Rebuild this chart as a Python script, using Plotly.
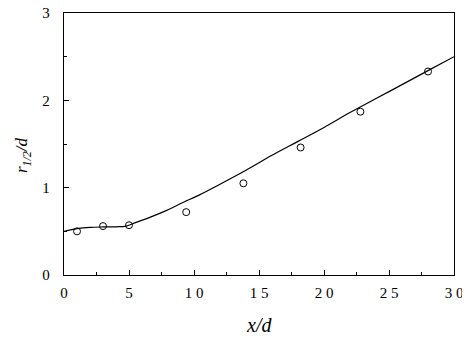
import plotly.graph_objects as go

# measured points
x_pts = [1.0, 3.0, 5.0, 9.4, 13.8, 18.2, 22.8, 28.0]
y_pts = [0.50, 0.56, 0.57, 0.72, 1.05, 1.46, 1.87, 2.33]

# fitted curve
x_fit = [0, 1, 2, 3, 4, 4.8, 5.5, 6.6, 7.9, 9.15, 10.46, 12, 14, 16, 18, 20, 22, 24, 26, 28, 30]
y_fit = [0.50, 0.53, 0.545, 0.55, 0.552, 0.56, 0.60, 0.66, 0.74, 0.83, 0.92, 1.04, 1.20, 1.37, 1.53, 1.69, 1.86, 2.02, 2.18, 2.34, 2.50]

x_ticks = [0, 5, 10, 15, 20, 25, 30]
x_tick_text = ["0", "5", "1 0", "1 5", "2 0", "2 5", "3 0"]
y_ticks = [0, 1, 2, 3]

font = "Liberation Serif"

fig = go.Figure()
fig.add_trace(go.Scatter(x=x_fit, y=y_fit, mode="lines", line=dict(color="black", width=1.2, shape="spline"),
                         showlegend=False, hoverinfo="skip"))
fig.add_trace(go.Scatter(x=x_pts, y=y_pts, mode="markers",
                         marker=dict(symbol="circle-open", size=7, color="black", line=dict(width=1)),
                         showlegend=False))

axis_common = dict(showgrid=False, zeroline=False, showline=True, linecolor="black", linewidth=1.3,
                   mirror=True, ticks="inside", tickcolor="black", ticklen=5, tickwidth=1,
                   automargin=False, ticklabeloverflow="allow",
                   tickfont=dict(family=font, size=15, color="black"))

fig.update_xaxes(range=[0, 30], tickvals=x_ticks, ticktext=x_tick_text, ticklabelstandoff=4,
                 minor=dict(ticks="inside", dtick=2.5, tick0=0, ticklen=3, tickcolor="black"),
                 **axis_common)
fig.update_yaxes(range=[0, 3], tickvals=y_ticks, ticklabelstandoff=10,
                 minor=dict(ticks="inside", dtick=0.5, tick0=0, ticklen=3, tickcolor="black"),
                 **axis_common)

fig.add_annotation(text="<i>x/d</i>", xref="paper", yref="paper", x=0.5, y=-0.191,
                   xanchor="center", yanchor="middle", showarrow=False,
                   font=dict(family=font, size=20, color="black"))
fig.add_annotation(text="<i>r</i><sub><i>1/2</i></sub><i>/d</i>", xref="paper", yref="paper",
                   x=-0.105, y=0.458, xanchor="center", yanchor="middle", textangle=-90,
                   showarrow=False, font=dict(family=font, size=17, color="black"))

fig.update_layout(width=470, height=340, margin=dict(l=56, r=24, t=5, b=73),
                  plot_bgcolor="white", paper_bgcolor="white")

fig.write_html("out.html")
